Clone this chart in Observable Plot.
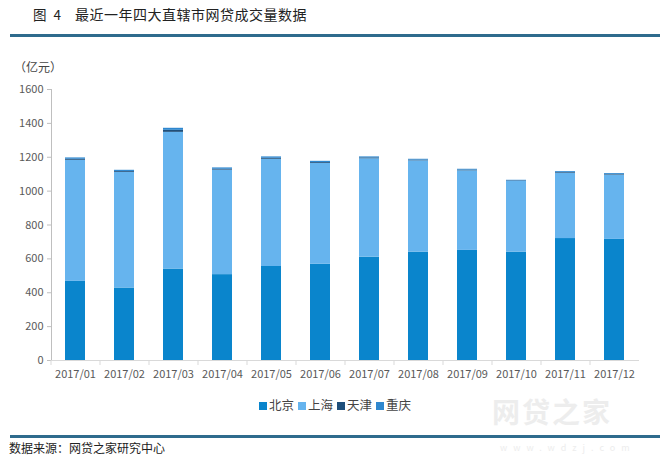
<!DOCTYPE html>
<html>
<head>
<meta charset="utf-8">
<script src="https://cdn.jsdelivr.net/npm/d3@7"></script>
<script src="https://cdn.jsdelivr.net/npm/@observablehq/plot@0.6"></script>
<style>
  html, body { margin: 0; padding: 0; background: #fff; }
  #wrap { position: relative; width: 670px; height: 460px; overflow: hidden;
          font-family: "Noto Sans CJK SC", "Noto Sans", sans-serif; color: #333; }
  #title1 { position: absolute; left: 33px; top: 4px; font-size: 13.5px; color: #222; word-spacing: 4px; }
  #title2 { position: absolute; left: 75px; top: 4px; font-size: 14px; color: #222; letter-spacing: 0.5px; }
  .rule { position: absolute; left: 10px; width: 650px; height: 3px; background: #2e6b8d; }
  #unit { position: absolute; left: 14px; top: 58px; font-size: 12px; color: #444; }
  #chart { position: absolute; left: 0; top: 50px; }
  #legend { position: absolute; left: 0; width: 670px; top: 395px; text-align: center; font-size: 12.5px; color: #444; }
  #legend span.item { margin: 0 2px; }
  #legend span.sw { display: inline-block; width: 8px; height: 8px; margin-right: 2px; vertical-align: 0px; }
  #source { position: absolute; left: 9px; top: 439px; font-size: 12px; color: #222; }
  #wm { position: absolute; left: 492px; top: 394px; font-size: 28px; font-weight: bold; color: #ededed; letter-spacing: 2px; line-height: 34px; }
  #wm2 { position: absolute; left: 500px; top: 442px; font-size: 9px; color: #ededed; letter-spacing: 6px; line-height: 12px; }
</style>
</head>
<body>
<div id="wrap">
  <div id="title1">图 4</div>
  <div id="title2">最近一年四大直辖市网贷成交量数据</div>
  <div class="rule" style="top:34px"></div>
  <div id="unit">（亿元）</div>
  <div id="chart"></div>
  <div id="legend"></div>
  <div id="wm">网贷之家</div>
  <div id="wm2">www.wdzj.com</div>
  <div class="rule" style="top:435px"></div>
  <div id="source">数据来源：网贷之家研究中心</div>
</div>
<script>
const months = ["2017/01","2017/02","2017/03","2017/04","2017/05","2017/06","2017/07","2017/08","2017/09","2017/10","2017/11","2017/12"];
const seriesNames = ["北京","上海","天津","重庆"];
const beijing   = [467, 428, 540, 507, 555, 568, 610, 640, 650, 640, 720, 715];
const shanghai  = [715, 683, 807, 617, 633, 596, 581, 539, 470, 417, 386, 380];
const tianjin   = [6, 5, 12, 5, 6, 5, 5, 4, 4, 3, 4, 4];
const chongqing = [8, 7, 12, 8, 8, 7, 6, 5, 5, 4, 5, 5];
const seriesColors = ["#0a85cc", "#66b4ee", "#1f4f7a", "#2e87cf"];
const yTicks = [0, 200, 400, 600, 800, 1000, 1200, 1400, 1600];

const valuesBySeries = [beijing, shanghai, tianjin, chongqing];
const data = [];
seriesNames.forEach((s, si) => {
  months.forEach((m, mi) => data.push({month: m, series: s, value: valuesBySeries[si][mi]}));
});

const chart = Plot.plot({
  width: 670,
  height: 340,
  marginLeft: 51,
  marginRight: 31,
  marginTop: 39,
  marginBottom: 30,
  style: {fontFamily: "'Noto Sans CJK SC', 'Noto Sans', sans-serif", fontSize: "11px", color: "#595959", background: "transparent"},
  x: {type: "band", domain: months, paddingInner: 0.59, paddingOuter: 0.295},
  y: {domain: [0, 1600]},
  color: {domain: seriesNames, range: seriesColors},
  marks: [
    Plot.barY(data, {x: "month", y: "value", fill: "series", order: seriesNames}),
    Plot.frame({anchor: "left", stroke: "#bfbfbf"}),
    Plot.ruleY([0], {stroke: "#d9d9d9"}),
    Plot.axisY({ticks: yTicks, tickFormat: d => String(d), tickSize: 4, tickPadding: 4, stroke: "#bfbfbf", label: null, fill: "#595959", fontSize: 11}),
    Plot.axisX({tickSize: 0, tickPadding: 10, label: null, fill: "#595959", fontSize: 11}),
    Plot.axisX({tickSize: 5, text: null, dx: -24.5, stroke: "#d9d9d9", label: null})
  ]
});
document.getElementById("chart").appendChild(chart);

const legend = document.getElementById("legend");
seriesNames.forEach((s, i) => {
  const item = document.createElement("span");
  item.className = "item";
  const sw = document.createElement("span");
  sw.className = "sw";
  sw.style.background = seriesColors[i];
  item.appendChild(sw);
  item.appendChild(document.createTextNode(s));
  legend.appendChild(item);
});
</script>
</body>
</html>
